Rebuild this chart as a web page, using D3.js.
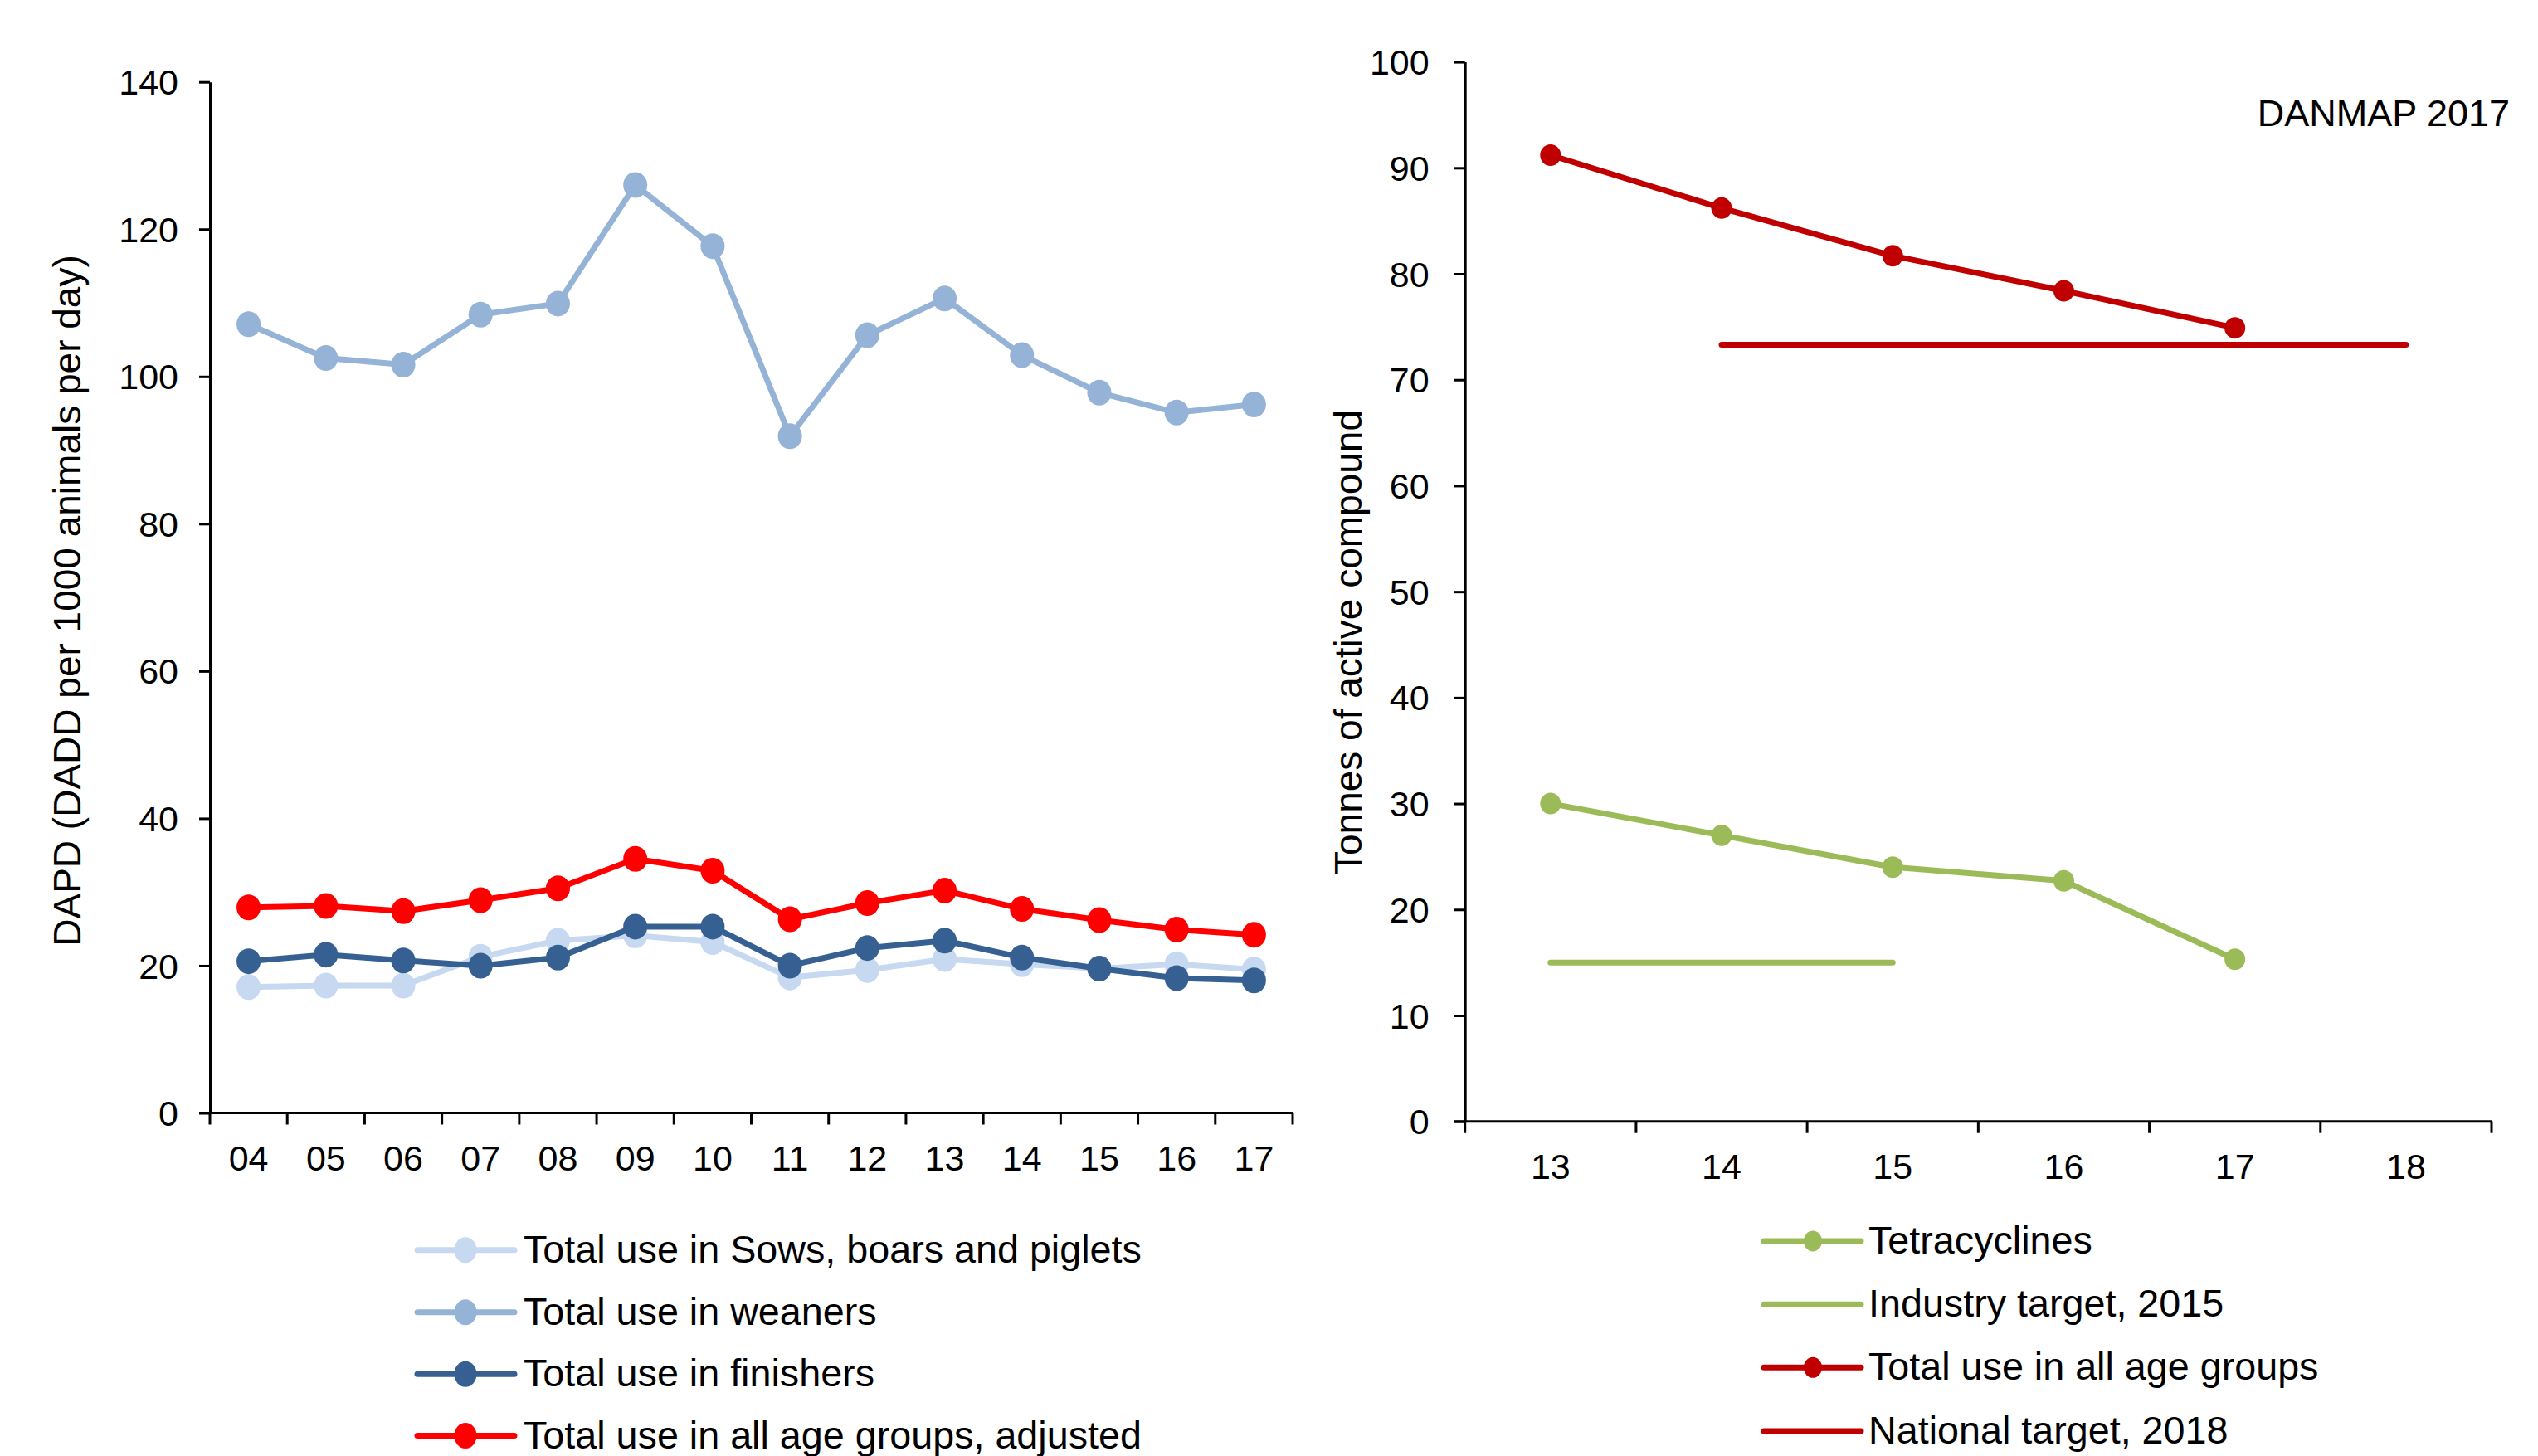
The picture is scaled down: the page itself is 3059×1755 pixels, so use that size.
<!DOCTYPE html>
<html>
<head>
<meta charset="utf-8">
<script src="https://cdn.jsdelivr.net/npm/d3@7"></script>
<style>
  html, body { margin: 0; padding: 0; background: #fff; }
  svg { display: block; }
  text { font-family: "Liberation Sans", Arial, sans-serif; fill: #000; }
</style>
</head>
<body>
<svg id="chart" width="3059" height="1755"></svg>
<script>
// ---------- Data ----------
const leftYears = ["04","05","06","07","08","09","10","11","12","13","14","15","16","17"];
const leftYTicks = [0, 20, 40, 60, 80, 100, 120, 140];
const sowsBoarsPiglets = [17.1, 17.3, 17.3, 21.2, 23.4, 24.1, 23.2, 18.4, 19.4, 20.9, 20.2, 19.6, 20.2, 19.5];
const weaners = [107.1, 102.5, 101.6, 108.4, 109.9, 126.0, 117.7, 91.9, 105.6, 110.6, 102.9, 97.8, 95.1, 96.2];
const finishers = [20.6, 21.5, 20.7, 20.0, 21.1, 25.3, 25.3, 20.0, 22.4, 23.4, 21.1, 19.6, 18.3, 18.0];
const allAgeAdjusted = [27.9, 28.1, 27.4, 28.9, 30.5, 34.5, 32.9, 26.3, 28.5, 30.2, 27.7, 26.2, 24.9, 24.2];
const leftLabels = ["Total use in Sows, boars and piglets", "Total use in weaners", "Total use in finishers", "Total use in all age groups, adjusted"];
const leftColors = ["#c6d9f1", "#95b3d7", "#376092", "#ff0000"];

const rightYears = ["13","14","15","16","17","18"];
const rightYTicks = [0, 10, 20, 30, 40, 50, 60, 70, 80, 90, 100];
const tetraYears = ["13","14","15","16","17"];
const tetracyclines = [30.0, 27.0, 24.0, 22.7, 15.3];
const industryYears = ["13","15"];
const industryTarget = [15.0, 15.0];
const totalYears = ["13","14","15","16","17"];
const totalAllAge = [91.2, 86.2, 81.7, 78.4, 74.9];
const nationalYears = ["14","18"];
const nationalTarget = [73.3, 73.3];
const rightLabels = ["Tetracyclines", "Industry target, 2015", "Total use in all age groups", "National target, 2018"];
const rightColors = ["#9bbb59", "#9bbb59", "#c00000", "#c00000"];

// ---------- Setup ----------
const svg = d3.select("#chart");
const FONT_TICK = 43, FONT_LEG = 46.7, FONT_TITLE = 46;

// ---------- Left chart ----------
const L = { x0: 253, x1: 1558, y0: 1341.5, y1: 98.7 };
const xL = d3.scaleBand().domain(leftYears).range([L.x0, L.x1]).padding(0);
const yL = d3.scaleLinear().domain([0, 140]).range([L.y0, L.y1]);
const cxL = d => xL(d) + xL.bandwidth() / 2;

const gL = svg.append("g");

const yAxisL = d3.axisLeft(yL).tickValues(leftYTicks).tickSize(13).tickPadding(25).tickSizeOuter(0);
const gyL = gL.append("g").attr("transform", `translate(${L.x0},0)`).call(yAxisL);
gyL.selectAll("path, line").attr("stroke", "#000").attr("stroke-width", 3);
gyL.selectAll("text").style("font-size", FONT_TICK + "px").attr("dy", "0.35em");

gL.append("line").attr("x1", L.x0 - 13).attr("x2", L.x1).attr("y1", L.y0).attr("y2", L.y0)
  .attr("stroke", "#000").attr("stroke-width", 3);
const bL = leftYears.map(d => xL(d)).concat([L.x1]);
gL.selectAll(".bt").data(bL).enter().append("line")
  .attr("x1", d => d).attr("x2", d => d).attr("y1", L.y0).attr("y2", L.y0 + 14)
  .attr("stroke", "#000").attr("stroke-width", 3);
gL.selectAll(".xl").data(leftYears).enter().append("text")
  .attr("x", d => cxL(d)).attr("y", 1411).attr("text-anchor", "middle")
  .style("font-size", FONT_TICK + "px").text(d => d);

gL.append("text").attr("transform", `translate(97,724) rotate(-90)`)
  .attr("text-anchor", "middle").style("font-size", FONT_TITLE + "px")
  .text("DAPD (DADD per 1000 animals per day)");

const leftSeries = [sowsBoarsPiglets, weaners, finishers, allAgeAdjusted];
const lineL = d3.line().x((d, i) => cxL(leftYears[i])).y(d => yL(d));
leftSeries.forEach((s, k) => {
  gL.append("path").datum(s).attr("d", lineL).attr("fill", "none")
    .attr("stroke", leftColors[k]).attr("stroke-width", 7).attr("stroke-linejoin", "round");
  gL.selectAll(".m" + k).data(s).enter().append("ellipse")
    .attr("cx", (d, i) => cxL(leftYears[i])).attr("cy", d => yL(d))
    .attr("rx", 14.5).attr("ry", 15.5).attr("fill", leftColors[k]);
});

const legLRows = [1506.7, 1581.7, 1656.3, 1730.5];
leftLabels.forEach((lab, k) => {
  const y = legLRows[k];
  gL.append("line").attr("x1", 503).attr("x2", 620).attr("y1", y).attr("y2", y)
    .attr("stroke", leftColors[k]).attr("stroke-width", 7).attr("stroke-linecap", "round");
  gL.append("ellipse").attr("cx", 561).attr("cy", y).attr("rx", 13.5).attr("ry", 15.5).attr("fill", leftColors[k]);
  gL.append("text").attr("x", 631).attr("y", y + 15).style("font-size", FONT_LEG + "px").text(lab);
});

// ---------- Right chart ----------
const R = { x0: 1765.7, x1: 3003, y0: 1351.7, y1: 74.6 };
const xR = d3.scaleBand().domain(rightYears).range([R.x0, R.x1]).padding(0);
const yR = d3.scaleLinear().domain([0, 100]).range([R.y0, R.y1]);
const cxR = d => xR(d) + xR.bandwidth() / 2;

const gR = svg.append("g");
const yAxisR = d3.axisLeft(yR).tickValues(rightYTicks).tickSize(13).tickPadding(30).tickSizeOuter(0);
const gyR = gR.append("g").attr("transform", `translate(${R.x0},0)`).call(yAxisR);
gyR.selectAll("path, line").attr("stroke", "#000").attr("stroke-width", 3);
gyR.selectAll("text").style("font-size", FONT_TICK + "px").attr("dy", "0.35em");

gR.append("line").attr("x1", R.x0 - 13).attr("x2", R.x1).attr("y1", R.y0).attr("y2", R.y0)
  .attr("stroke", "#000").attr("stroke-width", 3);
const bR = rightYears.map(d => xR(d)).concat([R.x1]);
gR.selectAll(".bt").data(bR).enter().append("line")
  .attr("x1", d => d).attr("x2", d => d).attr("y1", R.y0).attr("y2", R.y0 + 14)
  .attr("stroke", "#000").attr("stroke-width", 3);
gR.selectAll(".xl").data(rightYears).enter().append("text")
  .attr("x", d => cxR(d)).attr("y", 1421).attr("text-anchor", "middle")
  .style("font-size", FONT_TICK + "px").text(d => d);

gR.append("text").attr("transform", `translate(1641,774) rotate(-90)`)
  .attr("text-anchor", "middle").style("font-size", FONT_TITLE + "px")
  .text("Tonnes of active compound");

gR.append("text").attr("x", 3025).attr("y", 152).attr("text-anchor", "end")
  .style("font-size", "45px").text("DANMAP 2017");

const rightSeries = [
  { years: tetraYears, vals: tetracyclines, color: rightColors[0], marker: true },
  { years: industryYears, vals: industryTarget, color: rightColors[1], marker: false },
  { years: totalYears, vals: totalAllAge, color: rightColors[2], marker: true },
  { years: nationalYears, vals: nationalTarget, color: rightColors[3], marker: false }
];
rightSeries.forEach((s, k) => {
  const line = d3.line().x((d, i) => cxR(s.years[i])).y(d => yR(d));
  gR.append("path").datum(s.vals).attr("d", line).attr("fill", "none")
    .attr("stroke", s.color).attr("stroke-width", 7).attr("stroke-linejoin", "round").attr("stroke-linecap", "round");
  if (s.marker) {
    gR.selectAll(".m" + k).data(s.vals).enter().append("ellipse")
      .attr("cx", (d, i) => cxR(s.years[i])).attr("cy", d => yR(d))
      .attr("rx", 12.5).attr("ry", 13).attr("fill", s.color);
  }
});

const legRRows = [1496, 1572.3, 1648.3, 1725];
rightLabels.forEach((lab, k) => {
  const y = legRRows[k];
  gR.append("line").attr("x1", 2126).attr("x2", 2243).attr("y1", y).attr("y2", y)
    .attr("stroke", rightColors[k]).attr("stroke-width", 7).attr("stroke-linecap", "round");
  if (rightSeries[k].marker) {
    gR.append("ellipse").attr("cx", 2185).attr("cy", y).attr("rx", 11).attr("ry", 12.5).attr("fill", rightColors[k]);
  }
  gR.append("text").attr("x", 2252).attr("y", y + 15).style("font-size", FONT_LEG + "px").text(lab);
});
</script>
</body>
</html>
